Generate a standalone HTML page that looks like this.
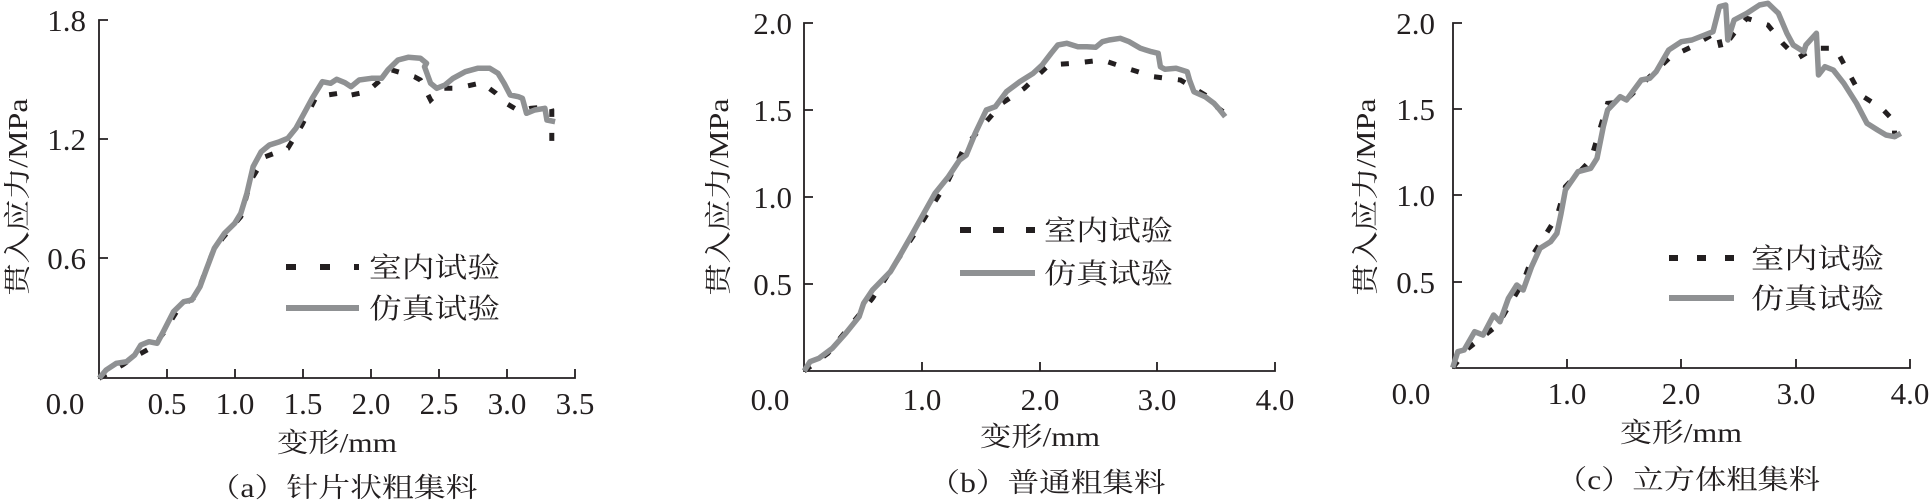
<!DOCTYPE html>
<html><head><meta charset="utf-8">
<style>
html,body{margin:0;padding:0;background:#fff;}
svg{display:block;}
text{font-family:"Liberation Serif","Noto Serif CJK SC",serif;fill:#231f20;}
</style></head>
<body>
<svg id="s" width="1932" height="503" viewBox="0 0 1932 503" xmlns="http://www.w3.org/2000/svg">
<g stroke="#231f20" stroke-width="1.8" fill="none">
<path d="M108,20 H99 V378 H575 V369"/>
<path d="M99,139 H108 M99,258 H108 M167,378 V369 M235,378 V369 M303,378 V369 M371,378 V369 M439,378 V369 M507,378 V369"/>
<path d="M813,23 H804 V371 H1275 V362"/>
<path d="M804,110 H813 M804,197 H813 M804,284 H813 M922,371 V362 M1040,371 V362 M1157,371 V362"/>
<path d="M1462,23 H1453 V368 H1910 V359"/>
<path d="M1453,109 H1462 M1453,195 H1462 M1453,282 H1462 M1567,368 V359 M1681,368 V359 M1796,368 V359"/>
</g>
<g font-size="31" text-anchor="end">
<text x="86" y="31">1.8</text><text x="86" y="150">1.2</text><text x="86" y="269">0.6</text>
<text x="792" y="34">2.0</text><text x="792" y="121">1.5</text><text x="792" y="208">1.0</text><text x="792" y="295">0.5</text>
<text x="1435" y="34">2.0</text><text x="1435" y="120">1.5</text><text x="1435" y="206">1.0</text><text x="1435" y="293">0.5</text>
</g>
<g font-size="31" text-anchor="middle">
<text x="65" y="414">0.0</text><text x="167" y="414">0.5</text><text x="235" y="414">1.0</text><text x="303" y="414">1.5</text><text x="371" y="414">2.0</text><text x="439" y="414">2.5</text><text x="507" y="414">3.0</text><text x="575" y="414">3.5</text>
<text x="770" y="410">0.0</text><text x="922" y="410">1.0</text><text x="1040" y="410">2.0</text><text x="1157" y="410">3.0</text><text x="1275" y="410">4.0</text>
<text x="1411" y="404">0.0</text><text x="1567" y="404">1.0</text><text x="1681" y="404">2.0</text><text x="1796" y="404">3.0</text><text x="1910" y="404">4.0</text>
</g>
<g font-size="27" text-anchor="middle">
<text transform="translate(27,197) rotate(-90)" textLength="197" lengthAdjust="spacingAndGlyphs">贯入应力/MPa</text>
<text transform="translate(728,197) rotate(-90)" textLength="197" lengthAdjust="spacingAndGlyphs">贯入应力/MPa</text>
<text transform="translate(1375,197) rotate(-90)" textLength="197" lengthAdjust="spacingAndGlyphs">贯入应力/MPa</text>
<text x="337" y="452" textLength="120" lengthAdjust="spacingAndGlyphs">变形/mm</text>
<text x="1040" y="446" textLength="120" lengthAdjust="spacingAndGlyphs">变形/mm</text>
<text x="1681" y="442" textLength="122" lengthAdjust="spacingAndGlyphs">变形/mm</text>
<text x="343" y="497" textLength="269" lengthAdjust="spacingAndGlyphs">（a）针片状粗集料</text>
<text x="1047" y="492" textLength="237" lengthAdjust="spacingAndGlyphs">（b）普通粗集料</text>
<text x="1688" y="489" textLength="264" lengthAdjust="spacingAndGlyphs">（c）立方体粗集料</text>
</g>
<g font-size="28">
<text x="369" y="277" textLength="131" lengthAdjust="spacingAndGlyphs">室内试验</text><text x="369" y="318" textLength="131" lengthAdjust="spacingAndGlyphs">仿真试验</text>
<text x="1044" y="240" textLength="129" lengthAdjust="spacingAndGlyphs">室内试验</text><text x="1044" y="283" textLength="129" lengthAdjust="spacingAndGlyphs">仿真试验</text>
<text x="1751" y="268" textLength="133" lengthAdjust="spacingAndGlyphs">室内试验</text><text x="1751" y="308" textLength="133" lengthAdjust="spacingAndGlyphs">仿真试验</text>
</g>
<g stroke-width="6" fill="none">
<path d="M286,267 H359" stroke="#231f20" stroke-dasharray="10 24"/>
<path d="M286,308 H359" stroke="#8f9193"/>
<path d="M960,230 H1035" stroke="#231f20" stroke-dasharray="11 22"/>
<path d="M960,273 H1035" stroke="#8f9193"/>
<path d="M1669,258 H1734" stroke="#231f20" stroke-dasharray="9 19"/>
<path d="M1669,298 H1734" stroke="#8f9193"/>
</g>
<g id="curves"></g>
</svg>
<script>
function P(off,sx,arr){var s=[];for(var i=0;i<arr.length;i+=2){s.push((off+arr[i]/sx).toFixed(1)+','+(arr[i+1]/3).toFixed(1));}return s.join(' ');}
var simA=[243,1135,260,1110,285,1090,310,1085,330,1065,345,1035,365,1025,385,1030,400,995,425,935,450,905,470,900,490,860,505,810,525,745,550,700,575,670,590,640,605,580,620,500,640,455,660,435,685,425,705,415,725,385,745,340,765,295,790,245,810,250,825,238,845,248,860,260,880,240,910,235,935,235,950,210,975,180,1000,172,1030,175,1045,190,1040,200,1055,250,1070,265,1090,255,1110,235,1140,215,1170,205,1200,205,1220,220,1235,250,1250,285,1270,290,1280,295,1290,340,1310,330,1335,325,1340,360,1360,365];
var expA=[243,1135,300,1095,330,1070,375,1040,400,1000,440,920,480,890,520,760,545,715,590,650,615,540,650,470,705,445,740,375,775,290,830,280,840,290,900,275,960,210,1015,230,1030,240,1055,300,1085,265,1120,265,1180,248,1215,280,1240,310,1275,335,1300,325,1350,320,1352,330,1352,430];
var simB=[547,1113,560,1085,580,1075,610,1045,640,1000,670,950,680,910,700,870,740,815,760,770,790,700,815,640,840,580,870,530,895,480,910,465,930,400,955,330,975,320,1000,275,1030,245,1060,220,1080,195,1100,160,1115,135,1135,130,1160,140,1180,140,1200,142,1215,125,1230,120,1255,115,1275,125,1300,145,1325,155,1340,160,1345,200,1355,208,1380,205,1405,215,1410,240,1420,275,1445,290,1465,310,1475,325,1490,350];
var expB=[547,1113,600,1060,700,895,800,690,870,540,905,445,945,380,990,310,1040,265,1095,195,1150,190,1215,180,1270,205,1330,230,1390,240,1445,285,1470,320,1490,340];
var simC=[433,1103,445,1055,460,1050,485,995,505,1005,530,945,545,965,565,895,585,855,600,870,620,800,640,745,665,725,680,700,690,640,700,570,730,515,760,505,775,475,790,380,800,330,830,290,845,300,880,240,900,235,915,215,945,150,975,125,1000,120,1030,105,1050,95,1065,20,1080,15,1085,120,1100,60,1130,40,1160,15,1180,10,1205,40,1225,100,1240,135,1265,155,1270,135,1295,100,1300,225,1315,200,1335,210,1360,250,1390,310,1415,370,1440,390,1460,405,1480,410,1495,400];
var expC=[433,1103,470,1045,540,975,600,845,625,760,680,650,700,560,760,480,800,310,840,305,900,230,950,170,1000,140,1060,95,1070,150,1100,100,1130,55,1180,75,1215,130,1250,175,1290,145,1340,145,1370,215,1400,285,1450,325,1480,365,1480,445];
var g=document.getElementById('curves'),h='';
[[0,2.45,expA,simA],[560,2.24,expB,simB],[1270,2.37,expC,simC]].forEach(function(c){
h+='<polyline points="'+P(c[0],c[1],c[2])+'" fill="none" stroke="#231f20" stroke-width="5" stroke-dasharray="8 16"/>';
h+='<polyline points="'+P(c[0],c[1],c[3])+'" fill="none" stroke="#8f9193" stroke-width="5.5" stroke-linejoin="round"/>';
});
g.innerHTML=h;
</script>
</body></html>
